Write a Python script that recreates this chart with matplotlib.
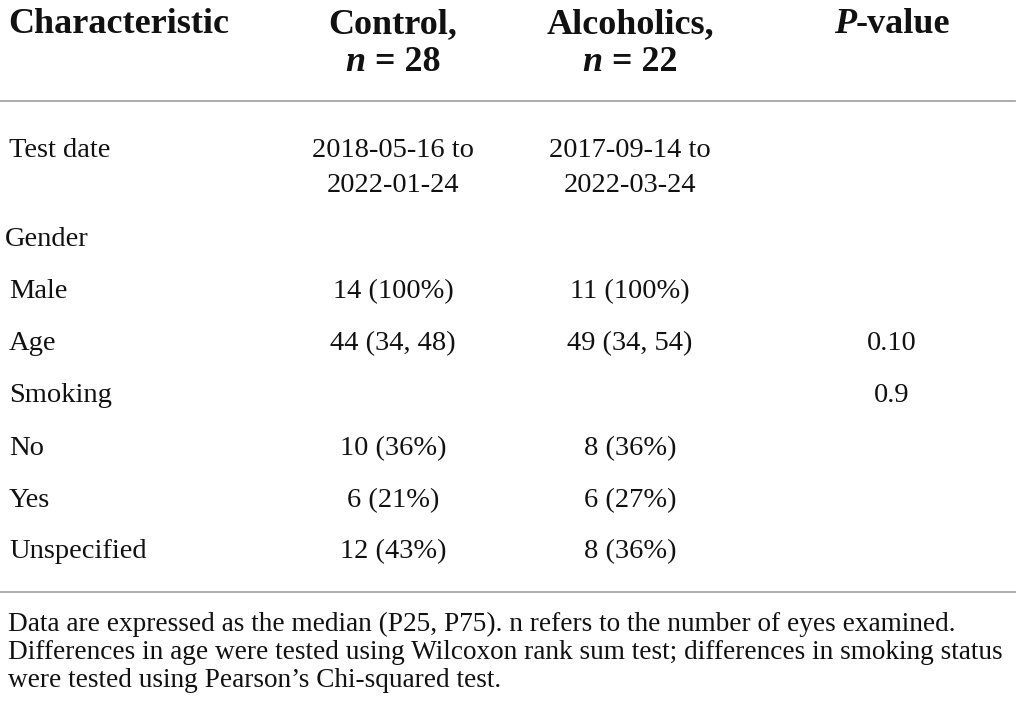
import matplotlib.pyplot as plt
from matplotlib.lines import Line2D

# table content
columns = ["Characteristic", "Control,", "Alcoholics,", "P-value"]
group_sizes = ["28", "22"]
row_labels = ["Test date", "Gender", "Male", "Age", "Smoking", "No", "Yes", "Unspecified"]
control = ["2018-05-16 to\n2022-01-24", "", "14 (100%)", "44 (34, 48)", "", "10 (36%)", "6 (21%)", "12 (43%)"]
alcoholics = ["2017-09-14 to\n2022-03-24", "", "11 (100%)", "49 (34, 54)", "", "8 (36%)", "6 (27%)", "8 (36%)"]
p_values = ["", "", "", "0.10", "0.9", "", "", ""]
footnote = [
    "Data are expressed as the median (P25, P75). n refers to the number of eyes examined.",
    "Differences in age were tested using Wilcoxon rank sum test; differences in smoking status",
    "were tested using Pearson\u2019s Chi-squared test.",
]

W, H = 1020, 719
FONT = "Liberation Serif"
INK = "#111111"

fig = plt.figure(figsize=(W / 100, H / 100), dpi=100)
renderer = fig.canvas.get_renderer()


def fx(x):
    return x / W


def fy(y):
    return 1 - y / H


def put(x, y, s, size, ha="left", **kw):
    return fig.text(fx(x), fy(y), s, fontsize=size, family=FONT, color=INK,
                    ha=ha, va="baseline", **kw)


def put_segments(xc, y, segments, size):
    # segments: list of (text, style) drawn side by side, centred on xc
    texts = [put(0, y, s, size, fontweight="bold", style=st) for s, st in segments]
    widths = [t.get_window_extent(renderer).width for t in texts]
    x = xc - sum(widths) / 2
    for t, w in zip(texts, widths):
        t.set_x(fx(x))
        x += w


def hline(y):
    fig.add_artist(Line2D([0, fx(1015)], [fy(y), fy(y)], color="#a6a6a6", lw=1.3))


col_x = [8, 393, 630, 892]
head_size = 26
body_size = 20.5

# header
put(col_x[0], 33, columns[0], head_size, fontweight="bold")
put(col_x[1], 33, columns[1], head_size, ha="center", fontweight="bold")
put(col_x[2], 33, columns[2], head_size, ha="center", fontweight="bold")
put_segments(col_x[3], 33, [("P", "italic"), ("-value", "normal")], head_size)
for xc, n in zip(col_x[1:3], group_sizes):
    put_segments(xc, 71, [("n", "italic"), (" = " + n, "normal")], head_size)

hline(101)

# body rows
row_y = [157, 246, 298, 350, 402, 455, 507, 558]
line_gap = 35
for i, label in enumerate(row_labels):
    y = row_y[i]
    put(5 if label == "Gender" else 9, y, label, body_size)
    for xc, cell in zip(col_x[1:], [control[i], alcoholics[i], p_values[i]]):
        for k, part in enumerate(cell.split("\n")):
            if part:
                put(xc, y + k * line_gap, part, body_size, ha="center")

hline(592)

# footnote, sized so the longest line spans the table width
note_y = [631, 659, 687]
probe = put(8, note_y[1], footnote[1], 20)
w = probe.get_window_extent(renderer).width
probe.remove()
note_size = 20 * (995 / w)
for s, y in zip(footnote, note_y):
    put(8, y, s, note_size)

fig.savefig("out.png", dpi=100, facecolor="white")
